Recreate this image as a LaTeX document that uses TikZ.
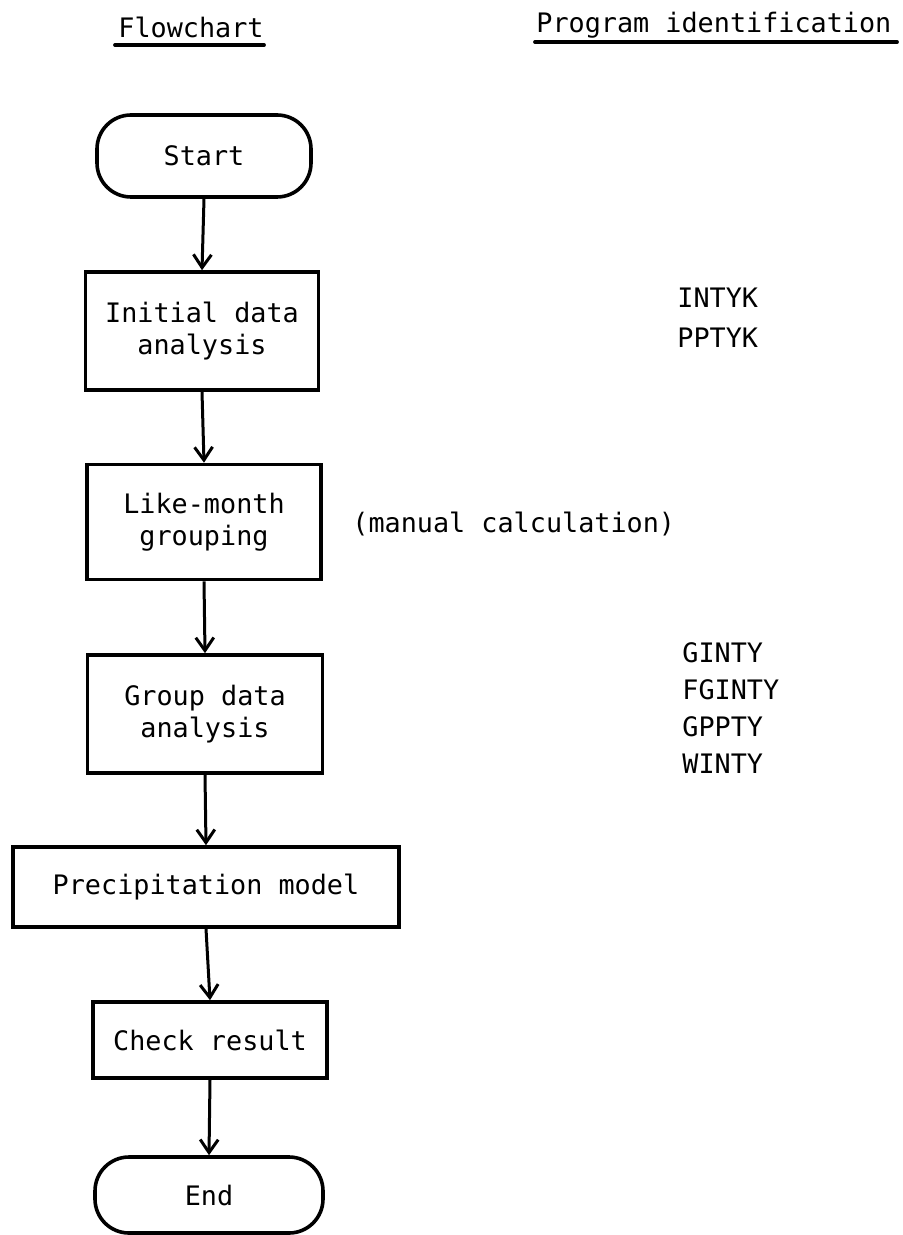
\documentclass[tikz,border=0pt]{standalone}
\usepackage{fontspec}
\setmonofont{DejaVu Sans Mono}
\usetikzlibrary{arrows.meta}

\begin{document}
\begin{tikzpicture}[x=.5pt, y=-.5pt, >={Straight Barb[length=6.5pt,width=9pt]},
    every node/.style={font=\ttfamily\fontsize{13.4}{16}\selectfont},
    box/.style={draw, line width=1.8pt, align=center, inner sep=0pt},
    term/.style={box, rounded corners=17pt},
    link/.style={->, line width=1.5pt},
    rule/.style={line width=1.9pt, line cap=round}]
\useasboundingbox (0,0) rectangle (903,1235);
% headings
\node[anchor=base west, inner sep=0pt] (hflow) at (118,38) {Flowchart};
\node[anchor=base west, inner sep=0pt] (hprog) at (536,33) {Program identification};
\draw[rule] (115,45)--(264,45);
\draw[rule] (535,42)--(897,42);
% flowchart
\node[term, minimum width=107pt, minimum height=41pt] (start) at (204,156) {Start};
\node[box, minimum width=116.5pt, minimum height=59pt] (init) at (202,331) {Initial data\\analysis};
\node[box, minimum width=117pt, minimum height=57.5pt] (like) at (204,522) {Like-month\\grouping};
\node[box, minimum width=117.5pt, minimum height=59pt] (grp) at (205,714) {Group data\\analysis};
\node[box, minimum width=193pt, minimum height=40pt] (precip) at (206,887) {Precipitation model};
\node[box, minimum width=117pt, minimum height=38pt] (check) at (210,1040) {Check result};
\node[term, minimum width=114pt, minimum height=38pt] (end) at (209,1195) {End};
\draw[link](start.south)--(init.north);
\draw[link](init.south)--(like.north);
\draw[link](like.south)--(grp.north);
\draw[link](grp.south)--(precip.north);
\draw[link](precip.south)--(check.north);
\draw[link](check.south)--(end.north);
% program names
\foreach \name [count=\i] in {INTYK,PPTYK}
    \node[anchor=base west, inner sep=0pt] (p\i) at (677,267+40*\i) {\name};
\node[anchor=base west, inner sep=0pt] (manual) at (352,532) {(manual calculation)};
\foreach \name [count=\i] in {GINTY,FGINTY,GPPTY,WINTY}
    \node[anchor=base west, inner sep=0pt] (g\i) at (682,625+37*\i) {\name};

\end{tikzpicture}
\end{document}
